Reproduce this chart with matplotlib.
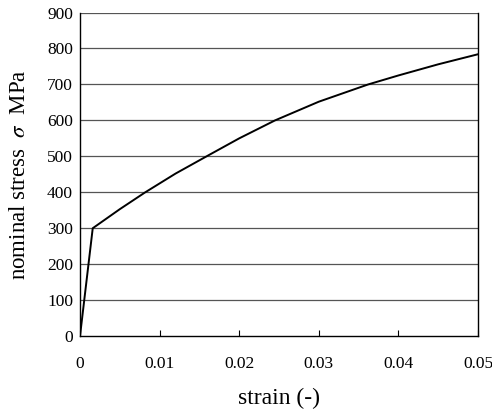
import matplotlib
matplotlib.use("Agg")
import matplotlib.pyplot as plt

strain = [0.0, 0.0016, 0.005, 0.0082, 0.012, 0.0159, 0.020, 0.0245, 0.030, 0.0362, 0.040, 0.045, 0.050]
stress = [0, 300, 353, 400, 452, 500, 550, 600, 652, 700, 725, 756, 784]

xticks = [0, 0.01, 0.02, 0.03, 0.04, 0.05]
xticklabels = ["0", "0.01", "0.02", "0.03", "0.04", "0.05"]
yticks = [0, 100, 200, 300, 400, 500, 600, 700, 800, 900]

plt.rcParams['font.family'] = ['Liberation Serif', 'DejaVu Serif']
plt.rcParams['mathtext.fontset'] = 'stix'

fig = plt.figure(figsize=(4.92, 4.18), dpi=100)
ax = fig.add_axes([0.1626, 0.196, 0.809, 0.774])

for y in yticks[1:]:
    ax.axhline(y, color='#555555', lw=0.9, zorder=1)

ax.plot(strain, stress, color='black', lw=1.4, zorder=3)

ax.set_xlim(0, 0.05)
ax.set_ylim(0, 900)
ax.set_xticks(xticks)
ax.set_xticklabels(xticklabels)
ax.set_yticks(yticks)
ax.tick_params(axis='x', direction='in', length=4, pad=14, labelsize=12.5)
ax.tick_params(axis='y', length=0, pad=5, labelsize=12.5)

ax.spines['top'].set_visible(False)
for s in ['left', 'bottom', 'right']:
    ax.spines[s].set_color('black')
    ax.spines[s].set_linewidth(1.0)

ax.set_xlabel("strain (-)", fontsize=17, labelpad=12)
ax.set_ylabel("nominal stress  $\\sigma$  MPa", fontsize=16.5, labelpad=12)

fig.savefig("out.png", dpi=100)
